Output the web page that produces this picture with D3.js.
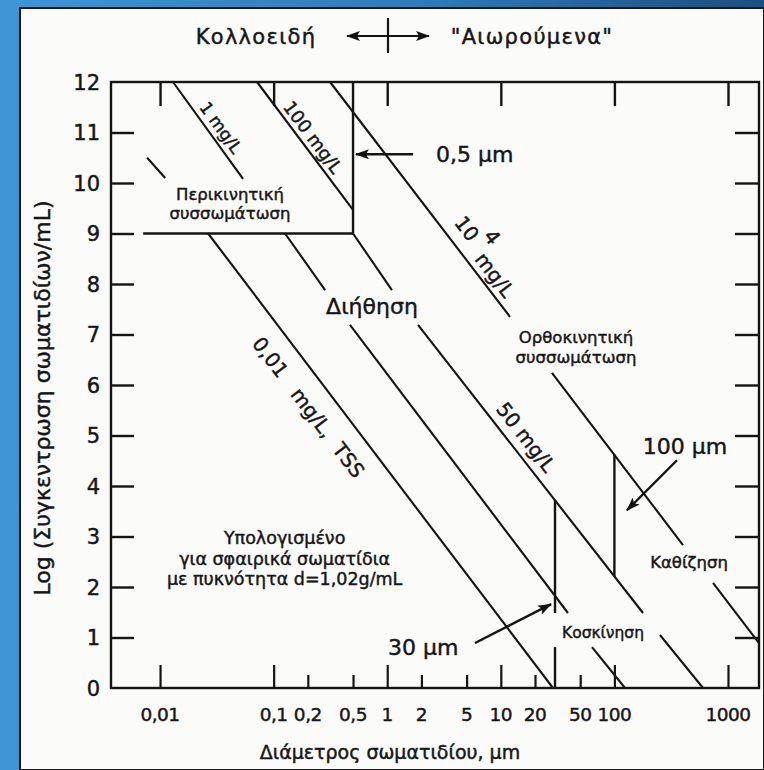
<!DOCTYPE html>
<html><head><meta charset="utf-8">
<script src="https://cdn.jsdelivr.net/npm/d3@7"></script>
<style>
body{margin:0;background:#fff}
svg{display:block}
text{font-family:"DejaVu Sans",sans-serif;fill:#161616;stroke:#161616;stroke-width:0.45px}
</style>
</head><body>
<svg id="chart" width="764" height="770"></svg>
<script>
// ---------------- data ----------------
const yTickValues = [0,1,2,3,4,5,6,7,8,9,10,11,12];
const yInnerTicks = [1,2,3,4,5,6,7,8,9,10,11];
const xTickValues = [0.01,0.1,0.2,0.5,1,2,5,10,20,50,100,1000];
const xTickLabels = ["0,01","0,1","0,2","0,5","1","2","5","10","20","50","100","1000"];
const xMajorTicks = [0.01,0.1,1,10,100,1000];
const xMinorTicks = [0.2,0.5,2,5,20,50];

// constant-mass lines, segments [d1 (µm), logN1, d2 (µm), logN2]
const line001mg = [[0.0077,10.5,0.0111,10.1],[0.0265,9,28.8,0]];
const line1mg   = [[0.0130,12,0.0538,10.08],[0.126,9,0.284,7.88],[0.470,7.19,39.0,1.485],[63.5,0.81,124,0]];
const line100mg = [[0.0714,12,0.5,9.47]];
const line50mg  = [[0.5,9,1.10,7.88],[1.866,7.19,178.6,1.485],[251.8,1.05,603,0]];
const line1e4mg = [[0.3136,12,12.05,7.35],[28.2,6.24,401.6,2.83],[738,2.08,1875,0.89]];

// region boundaries
const boxHorizontal = [[0.0071,9,0.5,9]];
const boxVertical   = [[0.5,9,0.5,12]];
const size30um  = [[30,3.72,30,1.485],[30,0.81,30,0]];
const size100um = [[100,4.62,100,2.21]];

// arrows [dFrom, NFrom, dTo, NTo]
const arrows = [[1.69,10.57,0.53,10.57],[5.93,0.89,27.7,1.66],[355.6,4.51,129,3.52]];

// annotation texts
const sizeLabels = [
  {t:"0,5 µm", d:2.69, n:10.57, anchor:"start"},
  {t:"30 µm",  d:2.07, n:0.81, anchor:"middle"},
  {t:"100 µm", d:418,  n:4.79, anchor:"middle"}
];
const regionLabels = [
  {lines:["Περικινητική","συσσωμάτωση"], d:0.0413, n:9.59, size:16.5},
  {lines:["Διήθηση"], d:0.734, n:7.56, size:22},
  {lines:["Ορθοκινητική","συσσωμάτωση"], d:45.9, n:6.75, size:16.5},
  {lines:["Υπολογισμένο","για σφαιρικά σωματίδια","με πυκνότητα d=1,02g/mL"], d:0.125, n:2.57, size:17.5},
  {lines:["Κοσκίνηση"], d:79.4, n:1.11, size:15.5},
  {lines:["Καθίζηση"], d:454, n:2.5, size:16.5}
];
const lineLabels = [
  {t:"1 mg/L", d:0.0344, n:11.1, ref:line1mg[0], size:17},
  {t:"100 mg/L", d:0.222, n:10.91, ref:line100mg[0], size:18},
  {t:"0,01   mg/L,  TSS", d:0.203, n:5.56, ref:line001mg[1], size:20},
  {t:"50 mg/L", d:16.7, n:4.97, ref:line50mg[1], size:20}
];
const label1e4 = {base:"10", sup:"4", unit:"mg/L", d:4.3, n:9.3, ref:line1e4mg[0]};

const headerLeft = "Κολλοειδή";
const headerRight = "\"Αιωρούμενα\"";
const xTitle = "Διάμετρος σωματιδίου, μm";
const yTitle = "Log (Συγκεντρωση σωματιδίων/mL)";

// ---------------- drawing ----------------
const svg = d3.select("#chart");
const W = 764, H = 770;

const defs = svg.append("defs");
const grad = defs.append("linearGradient").attr("id","bg").attr("x1","0").attr("x2","1").attr("y1","0").attr("y2","0");
grad.append("stop").attr("offset","0").attr("stop-color","#3f95d6");
grad.append("stop").attr("offset","0.55").attr("stop-color","#2f7bbb");
grad.append("stop").attr("offset","1").attr("stop-color","#1b4f80");
defs.append("marker").attr("id","ah").attr("viewBox","0 0 14 10").attr("refX",13).attr("refY",5)
  .attr("markerWidth",14).attr("markerHeight",10).attr("markerUnits","userSpaceOnUse").attr("orient","auto-start-reverse")
  .append("path").attr("d","M0,0 L14,5 L0,10 L3,5 Z").attr("fill","#111");

svg.append("rect").attr("width",W).attr("height",H).attr("fill","url(#bg)");
svg.append("rect").attr("x",20).attr("y",8).attr("width",W-20).attr("height",H-8)
  .attr("fill","#fbfbfa").attr("stroke","#1a1a1a").attr("stroke-width",2);

const x = d3.scaleLog().domain([0.0037,1875]).range([111,759]);
const y = d3.scaleLinear().domain([0,12]).range([688,82]);

const g = svg.append("g");
const ink = "#141414";

// frame
g.append("rect").attr("x",x.range()[0]).attr("y",y(12)).attr("width",x.range()[1]-x.range()[0]).attr("height",y(0)-y(12))
  .attr("fill","none").attr("stroke",ink).attr("stroke-width",2.4);

// axes via d3 axis generators (ticks drawn inward)
const leftAxis = d3.axisRight(y).tickValues(yInnerTicks).tickSize(23).tickFormat("");
g.append("g").attr("transform",`translate(${x.range()[0]},0)`).call(leftAxis)
  .call(s=>s.select(".domain").remove()).selectAll("line").attr("stroke",ink).attr("stroke-width",2.4);
const rightAxis = d3.axisLeft(y).tickValues(yInnerTicks).tickSize(24).tickFormat("");
g.append("g").attr("transform",`translate(${x.range()[1]},0)`).call(rightAxis)
  .call(s=>s.select(".domain").remove()).selectAll("line").attr("stroke",ink).attr("stroke-width",2.4);
const topAxis = d3.axisBottom(x).tickValues(xMajorTicks).tickSize(24).tickFormat("");
g.append("g").attr("transform",`translate(0,${y(12)})`).call(topAxis)
  .call(s=>s.select(".domain").remove()).selectAll("line").attr("stroke",ink).attr("stroke-width",2.4);
const botMajor = d3.axisTop(x).tickValues(xMajorTicks).tickSize(23).tickFormat("");
g.append("g").attr("transform",`translate(0,${y(0)})`).call(botMajor)
  .call(s=>s.select(".domain").remove()).selectAll("line").attr("stroke",ink).attr("stroke-width",2.2);
const botMinor = d3.axisTop(x).tickValues(xMinorTicks).tickSize(13).tickFormat("");
g.append("g").attr("transform",`translate(0,${y(0)})`).call(botMinor)
  .call(s=>s.select(".domain").remove()).selectAll("line").attr("stroke",ink).attr("stroke-width",2.2);

// tick labels
g.selectAll("text.yl").data(yTickValues).join("text").attr("class","yl")
  .attr("x",x.range()[0]-11).attr("y",d=>y(d)).attr("dy","0.36em").attr("text-anchor","end")
  .attr("font-size",21).text(d=>d);
g.selectAll("text.xl").data(xTickValues).join("text").attr("class","xl")
  .attr("x",d=>x(d)).attr("y",y(0)+33).attr("text-anchor","middle")
  .attr("font-size",18.5).attr("letter-spacing",-0.5).text((d,i)=>xTickLabels[i]);

// segments
function drawSegs(segs, w){
  g.append("g").selectAll("line").data(segs).join("line")
    .attr("x1",s=>x(s[0])).attr("y1",s=>y(s[1])).attr("x2",s=>x(s[2])).attr("y2",s=>y(s[3]))
    .attr("stroke",ink).attr("stroke-width",w).attr("stroke-linecap","butt");
}
[line001mg,line1mg,line100mg,line50mg,line1e4mg].forEach(s=>drawSegs(s,2.1));
drawSegs(boxHorizontal,2.6); drawSegs(boxVertical,2.4);
drawSegs(size30um,2.4); drawSegs(size100um,2.4);

// arrows
g.append("g").selectAll("line").data(arrows).join("line")
  .attr("x1",a=>x(a[0])).attr("y1",a=>y(a[1])).attr("x2",a=>x(a[2])).attr("y2",a=>y(a[3]))
  .attr("stroke",ink).attr("stroke-width",2.4).attr("marker-end","url(#ah)");

g.selectAll("text.sl").data(sizeLabels).join("text").attr("class","sl")
  .attr("x",d=>x(d.d)).attr("y",d=>y(d.n)).attr("dy","0.36em").attr("text-anchor",d=>d.anchor)
  .attr("font-size",22).text(d=>d.t);

// region labels
regionLabels.forEach(r=>{
  const t = g.append("text").attr("text-anchor","middle").attr("font-size",r.size);
  const n = r.lines.length, lh = r.size*1.18;
  r.lines.forEach((ln,i)=>{
    t.append("tspan").attr("x",x(r.d)).attr("y",y(r.n)+(i-(n-1)/2)*lh).attr("dy","0.36em").text(ln);
  });
});

// rotated line labels
function angleOf(s){ return Math.atan2(y(s[3])-y(s[1]), x(s[2])-x(s[0]))*180/Math.PI; }
lineLabels.forEach(l=>{
  const px = x(l.d), py = y(l.n);
  g.append("text").attr("transform",`translate(${px},${py}) rotate(${angleOf(l.ref)})`)
    .attr("text-anchor","middle").attr("dy","0.36em").attr("font-size",l.size)
    .style("white-space","pre").text(l.t);
});
{
  const px = x(label1e4.d), py = y(label1e4.n);
  const t = g.append("text").attr("transform",`translate(${px},${py}) rotate(${angleOf(label1e4.ref)})`)
    .attr("dy","0.36em").attr("font-size",20);
  t.append("tspan").text(label1e4.base);
  t.append("tspan").attr("dx",3).attr("dy",-15).text(label1e4.sup);
  t.append("tspan").attr("dx",-6).attr("dy",21).text(" "+label1e4.unit);
}

// header
const hy = 36;
svg.append("text").attr("x",256).attr("y",hy).attr("dy","0.36em").attr("text-anchor","middle").attr("font-size",21).attr("letter-spacing",1.3).text(headerLeft);
svg.append("text").attr("x",532).attr("y",hy).attr("dy","0.36em").attr("text-anchor","middle").attr("font-size",21).attr("letter-spacing",1.3).text(headerRight);
svg.append("line").attr("x1",388).attr("x2",347).attr("y1",hy).attr("y2",hy).attr("stroke",ink).attr("stroke-width",2.2).attr("marker-end","url(#ah)");
svg.append("line").attr("x1",388).attr("x2",429).attr("y1",hy).attr("y2",hy).attr("stroke",ink).attr("stroke-width",2.2).attr("marker-end","url(#ah)");
svg.append("line").attr("x1",388).attr("x2",388).attr("y1",18).attr("y2",53).attr("stroke",ink).attr("stroke-width",2.2);

// axis titles
svg.append("text").attr("x",390).attr("y",752).attr("dy","0.36em").attr("text-anchor","middle").attr("font-size",19).text(xTitle);
svg.append("text").attr("transform","translate(42,398) rotate(-90)").attr("dy","0.36em").attr("text-anchor","middle").attr("font-size",22).text(yTitle);
</script>
</body></html>
